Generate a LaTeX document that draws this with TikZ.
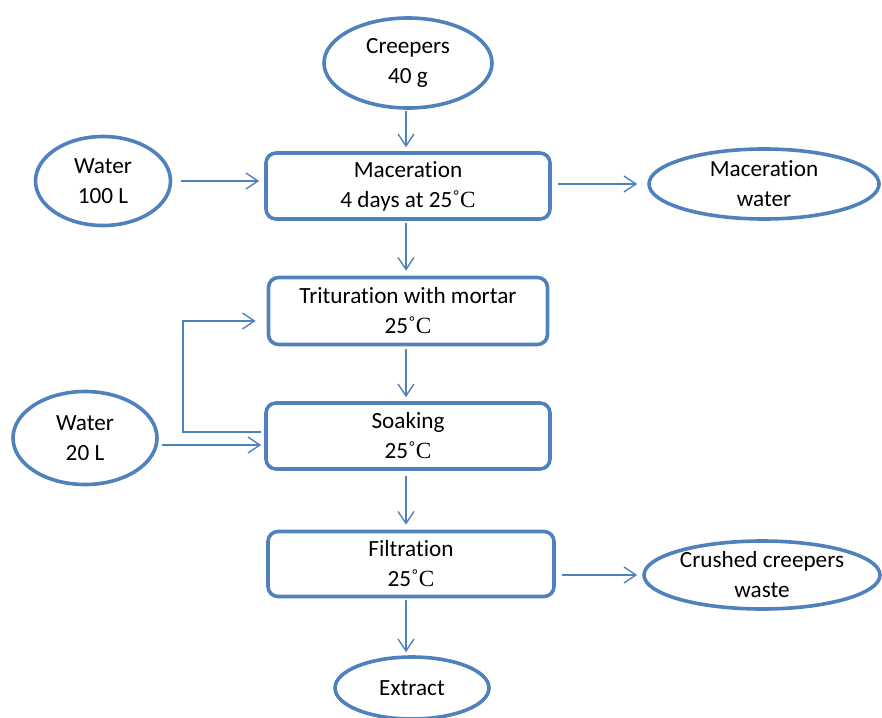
\documentclass[tikz,border=0pt]{standalone}
\usepackage{fontspec}
\setmainfont{Carlito}[Ligatures=NoCommon]
\newfontfamily\degfont{Liberation Serif}
\usetikzlibrary{shapes.geometric,arrows.meta}
\definecolor{flowblue}{RGB}{79,129,189}
\newcommand{\degC}{{\degfont˚C}}

\begin{document}
\begin{tikzpicture}[x=1pt, y=-1pt, font=\fontsize{23.2}{30}\selectfont,
	stepbox/.style={draw=flowblue, line width=3.6pt, rounded corners=10pt, align=center, minimum width=284pt, minimum height=66pt, inner sep=0pt},
	flowend/.style={draw=flowblue, line width=3.6pt, ellipse, align=center, inner sep=0pt},
	flow/.style={draw=flowblue, line width=1.4pt, line join=miter, -{Straight Barb[length=12pt, width=16pt]}}]
	\useasboundingbox (0,0) rectangle (882,717);
	\node[flowend, minimum width=168pt, minimum height=90pt] (creep) at (408,63) {Creepers\\40 g};
	\node[stepbox] (mac) at (408,186) {Maceration\\4 days at 25\degC};
	\node[flowend, minimum width=135pt, minimum height=89pt] (w100) at (103,181) {Water\\100 L};
	\node[flowend, minimum width=230pt, minimum height=70pt] (macw) at (764,184) {Maceration\\water};
	\node[stepbox, minimum width=279pt, minimum height=67pt] (trit) at (408,311) {Trituration with mortar\\25\degC};
	\node[stepbox] (soak) at (408,436) {Soaking\\25\degC};
	\node[flowend, minimum width=144pt, minimum height=93pt] (w20) at (85,438) {Water\\20 L};
	\node[stepbox, minimum width=286pt, minimum height=65pt] (filt) at (411,564) {Filtration\\25\degC};
	\node[flowend, minimum width=236pt, minimum height=68pt] (waste) at (762,575) {Crushed creepers\\waste};
	\node[flowend, minimum width=154pt, minimum height=62pt] (extr) at (412,688) {Extract};
	\coordinate (loopx) at (183,0);
	\draw[flow, shorten <=1pt, shorten >=4pt] ([xshift=-2pt]creep.south) -- ([xshift=-2pt]mac.north);
	\draw[flow] ([xshift=9pt]w100.east) -- ([xshift=-5pt]mac.west |- w100.east);
	\draw[flow] ([xshift=6pt]mac.east |- macw.west) -- ([xshift=-10pt]macw.west);
	\draw[flow, shorten <=2pt, shorten >=5pt] ([xshift=-2pt]mac.south) -- ([xshift=-2pt]trit.north);
	\draw[flow, shorten <=3pt, shorten >=4pt] ([xshift=-2pt]trit.south) -- ([xshift=-2pt]soak.north);
	\draw[flow, shorten <=5pt, shorten >=5pt] ([xshift=-2pt]soak.south) -- ([xshift=-2pt]soak.south |- filt.north);
	\draw[flow, shorten <=2pt, shorten >=3pt] ([xshift=-2pt]soak.south |- filt.south) -- ([xshift=-2pt]soak.south |- extr.north);
	\draw[flow] ([xshift=6pt]filt.east |- waste.west) -- ([xshift=-5pt]waste.west);
	\draw[flow] ([xshift=3pt, yshift=-7pt]w20.east) -- ([xshift=-3pt, yshift=-7pt]soak.west |- w20.east);
	\draw[flow] ([xshift=-3pt, yshift=4pt]soak.west) -| ([yshift=-10pt]loopx |- trit.west) -- ([xshift=-11pt, yshift=-10pt]trit.west);
\end{tikzpicture}
\end{document}
